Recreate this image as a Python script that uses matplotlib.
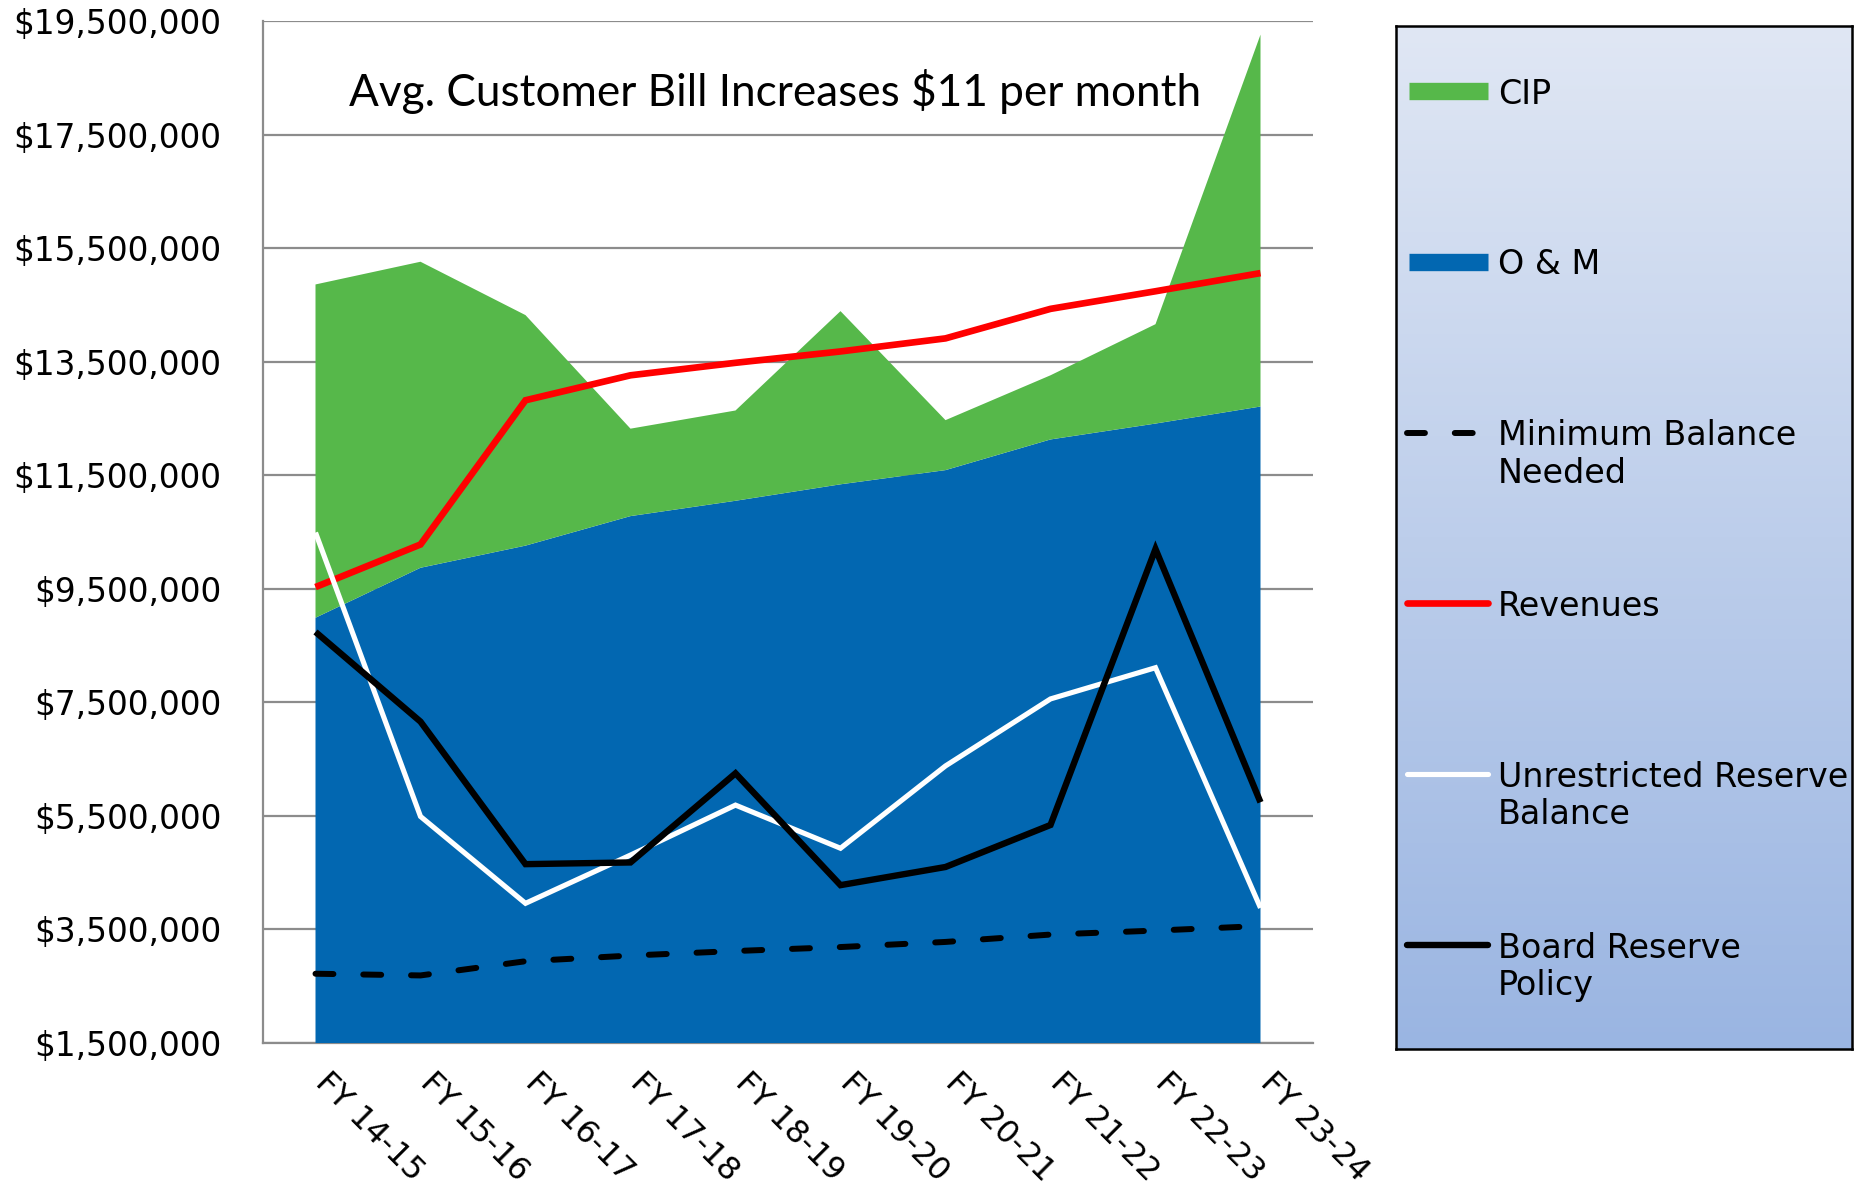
import numpy as np
import matplotlib
matplotlib.use("Agg")
import matplotlib.pyplot as plt
from matplotlib.ticker import FixedLocator
from matplotlib.transforms import ScaledTranslation

# ---------------- data ----------------
categories = ["FY 14-15", "FY 15-16", "FY 16-17", "FY 17-18", "FY 18-19",
              "FY 19-20", "FY 20-21", "FY 21-22", "FY 22-23", "FY 23-24"]
om = [8.99e6, 9.87e6, 10.26e6, 10.78e6, 11.05e6, 11.34e6, 11.59e6, 12.13e6, 12.41e6, 12.71e6]
cip = [5.87e6, 5.39e6, 4.06e6, 1.54e6, 1.59e6, 3.05e6, 0.88e6, 1.13e6, 1.75e6, 6.55e6]
min_balance = [2.72e6, 2.69e6, 2.94e6, 3.04e6, 3.12e6, 3.19e6, 3.28e6, 3.41e6, 3.48e6, 3.56e6]
revenues = [9.53e6, 10.28e6, 12.82e6, 13.26e6, 13.48e6, 13.68e6, 13.91e6, 14.43e6, 14.74e6, 15.06e6]
unrestricted = [10.49e6, 5.49e6, 3.96e6, 4.81e6, 5.69e6, 4.93e6, 6.38e6, 7.56e6, 8.11e6, 3.88e6]
board = [8.74e6, 7.16e6, 4.65e6, 4.68e6, 6.25e6, 4.28e6, 4.60e6, 5.34e6, 10.20e6, 5.74e6]
y_ticks = [1.5e6, 3.5e6, 5.5e6, 7.5e6, 9.5e6, 11.5e6, 13.5e6, 15.5e6, 17.5e6, 19.5e6]
title_text = "Avg. Customer Bill Increases $11 per month"

# ---------------- styles ----------------
GREEN = "#56B84A"
BLUE = "#0267B1"
GRID = "#8C8C8C"
styles = {
    "CIP": dict(kind="patch", color=GREEN),
    "O & M": dict(kind="patch", color=BLUE),
    "Minimum Balance\nNeeded": dict(kind="line", color="black", lw=4.3, ls=(0, (3, 5)),
                                    dash_capstyle="round"),
    "Revenues": dict(kind="line", color="#FF0000", lw=4.8, ls="-"),
    "Unrestricted Reserve\nBalance": dict(kind="line", color="white", lw=3.7, ls="-"),
    "Board Reserve\nPolicy": dict(kind="line", color="black", lw=4.6, ls="-"),
}

W, H = 1864, 1189
fig = plt.figure(figsize=(W / 100, H / 100), dpi=100)

ax = fig.add_axes([263 / W, 1 - 1043 / H, (1313 - 263) / W, (1043 - 21) / H])
x = np.arange(len(categories))

ax.stackplot(x, om, cip, colors=[BLUE, GREEN], zorder=2, linewidth=0)

def draw_line(key, values, z):
    s = styles[key]
    kw = dict(color=s["color"], lw=s["lw"], linestyle=s["ls"], zorder=z,
              solid_joinstyle="miter", solid_capstyle="butt")
    if "dash_capstyle" in s:
        kw["dash_capstyle"] = s["dash_capstyle"]
    ax.plot(x, values, **kw)

draw_line("Minimum Balance\nNeeded", min_balance, 3)
draw_line("Revenues", revenues, 4)
draw_line("Unrestricted Reserve\nBalance", unrestricted, 5)
draw_line("Board Reserve\nPolicy", board, 6)

ax.set_xlim(-0.5, len(categories) - 0.5)
ax.set_ylim(y_ticks[0], y_ticks[-1])
ax.yaxis.set_major_locator(FixedLocator(y_ticks))
ax.set_yticklabels(["${:,.0f}".format(v) for v in y_ticks], fontsize=23.6,
                   family="DejaVu Sans")
ax.set_xticks(x)
ax.set_xticklabels(categories, rotation=-45, ha="left", va="top",
                   rotation_mode="anchor", fontsize=22.8, family="DejaVu Sans")
ax.tick_params(axis="y", length=0, pad=30)
ax.tick_params(axis="x", length=0, pad=17)
offset = ScaledTranslation(15 / 100, 0, fig.dpi_scale_trans)
for lab in ax.get_xticklabels():
    lab.set_transform(lab.get_transform() + offset)

ax.grid(axis="y", color=GRID, lw=1.6, zorder=0)
ax.set_axisbelow(True)
for side in ["top", "right"]:
    ax.spines[side].set_visible(False)
for side in ["left", "bottom"]:
    ax.spines[side].set_color(GRID)
    ax.spines[side].set_linewidth(1.6)
    ax.spines[side].set_zorder(1)

fig.text(775 / W, 1 - 106 / H, title_text, ha="center", va="baseline",
         fontsize=31.8, family="Lato", color="black")

# ---------------- legend box ----------------
lx0, ly0, lx1, ly1 = 1396, 26, 1852, 1049
lax = fig.add_axes([lx0 / W, 1 - ly1 / H, (lx1 - lx0) / W, (ly1 - ly0) / H])
lw_px, lh_px = lx1 - lx0, ly1 - ly0
top_c = np.array([224, 231, 244]) / 255
bot_c = np.array([154, 181, 226]) / 255
t = np.linspace(0, 1, 256)[:, None, None]
grad = top_c[None, None, :] * (1 - t) + bot_c[None, None, :] * t
lax.imshow(grad, extent=[0, lw_px, lh_px, 0], aspect="auto", interpolation="bilinear")
lax.set_xlim(0, lw_px)
lax.set_ylim(lh_px, 0)
lax.set_xticks([])
lax.set_yticks([])
for sp in lax.spines.values():
    sp.set_color("black")
    sp.set_linewidth(1.8)

entry_y0, entry_step = 65, 170.8
for i, (label, s) in enumerate(styles.items()):
    yy = entry_y0 + i * entry_step
    if s["kind"] == "patch":
        lax.plot([13, 92], [yy, yy], color=s["color"], lw=12.5, solid_capstyle="butt")
    else:
        kw = dict(color=s["color"], lw=s["lw"], linestyle=s["ls"],
                  solid_capstyle="round")
        if "dash_capstyle" in s:
            kw["dash_capstyle"] = s["dash_capstyle"]
        lax.plot([11, 92], [yy, yy], **kw)
    lax.text(102, yy + 12 - 25.5, label, ha="left", va="top", fontsize=24,
             family="DejaVu Sans", color="black", linespacing=1.17)

fig.savefig("out.png", dpi=100)
